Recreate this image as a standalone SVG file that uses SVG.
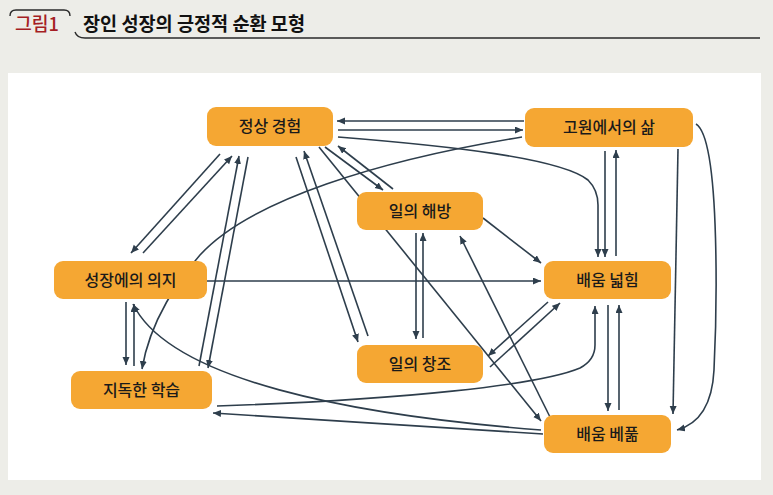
<svg xmlns="http://www.w3.org/2000/svg" width="773" height="495" viewBox="0 0 773 495">
<style>
.bg{fill:#EDEDE8}
.panel{fill:#FFFFFF}
.node rect{fill:#F5A733}
.node text{font-family:"Noto Sans CJK KR","Noto Sans",sans-serif;font-size:16px;font-weight:500;fill:#1A1A1A;text-anchor:middle}
.c path{fill:none;stroke:#2E3E4C;stroke-width:1.6}
.deco{fill:none;stroke:#2A2A2A;stroke-width:1.4}
</style>
<defs>
<marker id="ah" markerUnits="userSpaceOnUse" markerWidth="9" markerHeight="8" refX="8" refY="3.5" orient="auto">
<path d="M0,0 L8,3.5 L0,7 z" fill="#2E3E4C"/>
</marker>
</defs>
<rect class="bg" x="0" y="0" width="773" height="495"/>
<rect class="panel" x="8" y="73" width="753" height="407"/>
<g id="header">
<path class="deco" d="M10,16 Q10,10 16,10 L64,10 Q70,10 70,16"/>
<path class="deco" d="M75,32 Q77,38 85,38 L760,38"/>
<text x="15" y="31" font-family="'Noto Sans CJK KR','Noto Sans',sans-serif" font-size="19" font-weight="500" fill="#A51E24" textLength="44" lengthAdjust="spacingAndGlyphs">그림1</text>
<text x="83" y="31" font-family="'Noto Sans CJK KR','Noto Sans',sans-serif" font-size="19" font-weight="700" fill="#111111" textLength="222" lengthAdjust="spacingAndGlyphs">장인 성장의 긍정적 순환 모형</text>
</g>
<g id="connectors" class="c">
<path d="M524,121 L337,121" marker-end="url(#ah)"/>
<path d="M338,130 L523,130" marker-end="url(#ah)"/>
<path d="M338,137 C450,146 560,158 588,180 Q598,190 598,205 L598,257" marker-end="url(#ah)"/>
<path d="M522,137 C380,160 250,200 200,255 C180,278 150,320 142,369" marker-end="url(#ah)"/>
<path d="M220,154 L131,253" marker-end="url(#ah)"/>
<path d="M143,253 L232,156" marker-end="url(#ah)"/>
<path d="M199,366 L239,156" marker-end="url(#ah)"/>
<path d="M248,157 L208,368" marker-end="url(#ah)"/>
<path d="M296,157 L358,342" marker-end="url(#ah)"/>
<path d="M368,336 L304,151" marker-end="url(#ah)"/>
<path d="M319,147 L541,421" marker-end="url(#ah)"/>
<path d="M325,147 L383,190" marker-end="url(#ah)"/>
<path d="M393,189 L338,146" marker-end="url(#ah)"/>
<path d="M416,233 L416,339" marker-end="url(#ah)"/>
<path d="M423,338 L423,233" marker-end="url(#ah)"/>
<path d="M483,218 L541,263" marker-end="url(#ah)"/>
<path d="M207,281 L541,281" marker-end="url(#ah)"/>
<path d="M550,417 L460,236" marker-end="url(#ah)"/>
<path d="M548,302 L488,356" marker-end="url(#ah)"/>
<path d="M490,367 L560,303" marker-end="url(#ah)"/>
<path d="M605,151 L605,257" marker-end="url(#ah)"/>
<path d="M616,256 L616,150" marker-end="url(#ah)"/>
<path d="M678,149 L673,414" marker-end="url(#ah)"/>
<path d="M696,124 C722,140 716,330 714,370 C712,410 695,425 677,430" marker-end="url(#ah)"/>
<path d="M608,305 L608,411" marker-end="url(#ah)"/>
<path d="M619,410 L619,305" marker-end="url(#ah)"/>
<path d="M217,406 C400,400 540,385 580,368 Q595,360 595,345 L595,306" marker-end="url(#ah)"/>
<path d="M543,434 L213,413" marker-end="url(#ah)"/>
<path d="M541,430 C350,415 170,380 133,304" marker-end="url(#ah)"/>
<path d="M126,302 L126,365" marker-end="url(#ah)"/>
<path d="M134,366 L134,304" marker-end="url(#ah)"/>
</g>
<g id="n-normal" class="node"><rect x="207" y="107" width="126" height="39" rx="9"/><text x="270" y="132">정상 경험</text></g>
<g id="n-plateau" class="node"><rect x="525" y="108" width="168" height="39" rx="9"/><text x="609" y="133">고원에서의 삶</text></g>
<g id="n-liberation" class="node"><rect x="357" y="192" width="126" height="38" rx="9"/><text x="420" y="217">일의 해방</text></g>
<g id="n-broaden" class="node"><rect x="544" y="261" width="127" height="38" rx="9"/><text x="607.5" y="286">배움 넓힘</text></g>
<g id="n-will" class="node"><rect x="54" y="261" width="153" height="38" rx="9"/><text x="130.5" y="286">성장에의 의지</text></g>
<g id="n-creation" class="node"><rect x="357" y="345" width="126" height="38" rx="9"/><text x="420" y="370">일의 창조</text></g>
<g id="n-learning" class="node"><rect x="71" y="371" width="141" height="38" rx="9"/><text x="141.5" y="396">지독한 학습</text></g>
<g id="n-give" class="node"><rect x="544" y="415" width="127" height="38" rx="9"/><text x="607.5" y="440">배움 베풂</text></g>
</svg>
